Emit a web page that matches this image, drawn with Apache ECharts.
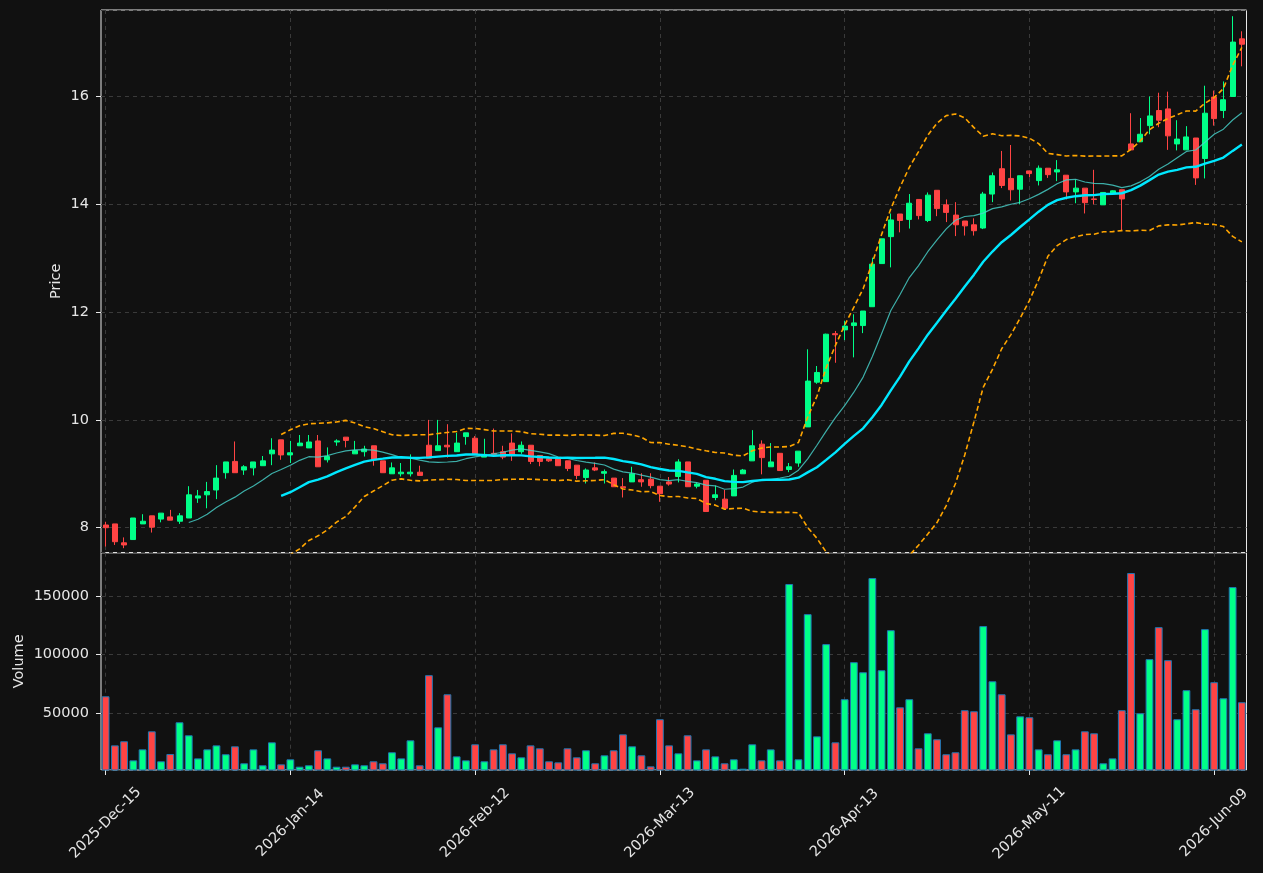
<!DOCTYPE html>
<html>
<head>
<meta charset="utf-8">
<script src="https://cdn.jsdelivr.net/npm/echarts@6/dist/echarts.min.js"></script>
<style>
  html, body { margin: 0; padding: 0; background: #111111; }
  #chart { width: 1263px; height: 873px; }
</style>
</head>
<body>
<div id="chart"></div>
<script>
// market holidays skipped when building the trading-day categories
var holidays = ['2025-12-25', '2026-01-01', '2026-01-19', '2026-02-16', '2026-04-03', '2026-05-25'];
var startDay = '2025-12-15';
var dayCount = 124;

var opens = [8.05, 8.07, 7.72, 7.78, 8.07, 8.22, 8.16, 8.20, 8.12, 8.18,
  8.55, 8.61, 8.70, 9.02, 9.23, 9.07, 9.11, 9.15, 9.37, 9.63,
  9.35, 9.52, 9.48, 9.61, 9.26, 9.59, 9.68, 9.37, 9.41, 9.52,
  9.24, 9.00, 9.00, 9.00, 9.03, 9.53, 9.43, 9.53, 9.41, 9.69,
  9.66, 9.31, 9.38, 9.41, 9.57, 9.41, 9.53, 9.34, 9.28, 9.29,
  9.24, 9.16, 8.93, 9.11, 9.01, 8.92, 8.76, 8.85, 8.89, 8.90,
  8.77, 8.85, 8.95, 9.22, 8.77, 8.88, 8.56, 8.53, 8.59, 9.00,
  9.24, 9.55, 9.13, 9.38, 9.08, 9.20, 9.87, 10.70, 10.71, 11.60,
  11.67, 11.75, 11.75, 12.10, 12.90, 13.40, 13.82, 13.72, 14.09, 13.70,
  14.26, 13.99, 13.80, 13.69, 13.62, 13.56, 14.19, 14.66, 14.48, 14.28,
  14.62, 14.44, 14.67, 14.60, 14.54, 14.23, 14.30, 14.10, 13.99, 14.20,
  14.27, 15.12, 15.16, 15.46, 15.74, 15.77, 15.12, 15.01, 15.23, 14.85,
  15.99, 15.74, 16.00, 17.07];
var closes = [8.00, 7.74, 7.68, 8.18, 8.12, 8.01, 8.27, 8.14, 8.22, 8.61,
  8.59, 8.67, 8.92, 9.22, 9.02, 9.13, 9.22, 9.24, 9.44, 9.35,
  9.39, 9.57, 9.59, 9.13, 9.32, 9.61, 9.62, 9.43, 9.46, 9.26,
  9.02, 9.11, 9.03, 9.03, 8.97, 9.29, 9.52, 9.50, 9.57, 9.76,
  9.36, 9.36, 9.36, 9.31, 9.35, 9.53, 9.23, 9.23, 9.24, 9.15,
  9.10, 8.97, 9.07, 9.07, 9.04, 8.76, 8.74, 9.00, 8.85, 8.78,
  8.63, 8.81, 9.22, 8.76, 8.81, 8.30, 8.61, 8.36, 8.97, 9.07,
  9.52, 9.30, 9.22, 9.06, 9.13, 9.42, 10.72, 10.88, 11.59, 11.58,
  11.74, 11.80, 12.02, 12.89, 13.36, 13.71, 13.70, 14.02, 13.79, 14.17,
  13.92, 13.85, 13.62, 13.60, 13.51, 14.19, 14.53, 14.35, 14.27, 14.53,
  14.57, 14.67, 14.55, 14.64, 14.23, 14.30, 14.03, 14.09, 14.22, 14.25,
  14.10, 15.01, 15.30, 15.64, 15.56, 15.27, 15.21, 15.25, 14.49, 15.69,
  15.59, 15.94, 17.01, 16.97];
var lows = [7.65, 7.68, 7.62, 7.78, 8.07, 7.91, 8.10, 8.14, 8.07, 8.18,
  8.46, 8.36, 8.53, 8.91, 9.02, 8.98, 8.97, 9.15, 9.16, 9.26,
  9.20, 9.52, 9.48, 9.13, 9.21, 9.52, 9.49, 9.37, 9.32, 9.15,
  9.02, 9.00, 8.95, 8.95, 8.97, 9.29, 9.43, 9.30, 9.41, 9.54,
  9.36, 9.31, 9.33, 9.27, 9.24, 9.37, 9.18, 9.14, 9.22, 9.15,
  9.05, 8.90, 8.82, 9.05, 8.82, 8.76, 8.56, 8.85, 8.76, 8.73,
  8.48, 8.78, 8.84, 8.76, 8.73, 8.30, 8.51, 8.36, 8.59, 9.00,
  9.24, 8.99, 9.13, 9.06, 9.03, 9.13, 9.87, 10.67, 10.71, 11.06,
  11.48, 11.16, 11.61, 12.10, 12.90, 12.83, 13.48, 13.55, 13.72, 13.67,
  13.78, 13.67, 13.41, 13.42, 13.42, 13.54, 14.04, 14.30, 14.07, 14.00,
  14.50, 14.35, 14.49, 14.43, 14.09, 14.02, 13.83, 14.00, 13.99, 14.19,
  13.52, 15.01, 15.16, 15.30, 15.43, 15.01, 15.00, 15.01, 14.36, 14.48,
  15.46, 15.60, 16.00, 16.56];
var highs = [8.11, 8.07, 7.82, 8.18, 8.25, 8.22, 8.27, 8.33, 8.27, 8.77,
  8.70, 8.85, 9.16, 9.22, 9.60, 9.16, 9.22, 9.33, 9.66, 9.63,
  9.61, 9.72, 9.72, 9.72, 9.49, 9.64, 9.68, 9.61, 9.52, 9.52,
  9.24, 9.21, 9.20, 9.36, 9.15, 10.00, 10.00, 9.92, 9.76, 9.76,
  9.70, 9.65, 9.84, 9.52, 9.75, 9.60, 9.53, 9.34, 9.30, 9.29,
  9.24, 9.16, 9.10, 9.21, 9.08, 8.92, 8.92, 9.13, 9.01, 9.01,
  8.77, 8.94, 9.27, 9.22, 8.84, 8.88, 8.78, 8.70, 9.08, 9.09,
  9.81, 9.62, 9.57, 9.38, 9.20, 9.42, 11.31, 11.00, 11.60, 11.65,
  11.84, 11.96, 12.02, 13.01, 13.36, 13.83, 13.82, 14.19, 14.09, 14.22,
  14.26, 14.09, 14.04, 13.69, 13.74, 14.23, 14.59, 14.99, 15.10, 14.53,
  14.62, 14.72, 14.67, 14.82, 14.54, 14.46, 14.30, 14.64, 14.22, 14.26,
  14.27, 15.69, 15.60, 16.00, 16.07, 16.09, 15.56, 15.45, 15.23, 16.20,
  16.11, 16.28, 17.49, 17.21];
var volumes = [64500, 22600, 26100, 9800, 19200, 34600, 9000, 15200, 42300, 31200,
  11500, 19200, 22600, 15000, 21800, 7300, 19200, 5600, 25200, 6400,
  10700, 4400, 5600, 18400, 11500, 4400, 4400, 6400, 5600, 9000,
  7300, 16700, 11500, 26900, 5600, 82500, 38000, 66200, 13200, 9800,
  23500, 9000, 19200, 23500, 15800, 12400, 22600, 20100, 9000, 8100,
  20100, 12400, 18400, 7300, 14100, 18400, 32000, 21800, 14100, 4700,
  44900, 22600, 15800, 31200, 9800, 19200, 13200, 7300, 10700, 2700,
  23500, 9800, 19200, 9800, 160300, 10700, 134600, 30300, 109000, 25200,
  62000, 93600, 85000, 165400, 86700, 120900, 55100, 62000, 20100, 32900,
  27800, 15000, 16700, 52600, 51700, 124400, 77300, 66200, 32000, 47400,
  46600, 19200, 15000, 26900, 15000, 19200, 34600, 32900, 7300, 11500,
  52600, 169700, 50000, 96200, 123500, 95300, 44900, 69700, 53400, 121800,
  76500, 62800, 157700, 59400];

var priceMin = 7.536, priceMax = 17.605;
var volMin = 1570, volMax = 187040;
var labelEvery = 20;

var upColor = '#00ff88', downColor = '#ff4444';
var months = ['Jan', 'Feb', 'Mar', 'Apr', 'May', 'Jun', 'Jul', 'Aug', 'Sep', 'Oct', 'Nov', 'Dec'];

function pad(n) { return n < 10 ? '0' + n : '' + n; }

// trading days: weekdays that are not holidays
var dates = [];
var d = new Date(startDay + 'T00:00:00Z');
while (dates.length < dayCount) {
  var wd = d.getUTCDay();
  var iso = d.getUTCFullYear() + '-' + pad(d.getUTCMonth() + 1) + '-' + pad(d.getUTCDate());
  if (wd !== 0 && wd !== 6 && holidays.indexOf(iso) < 0) {
    dates.push(d.getUTCFullYear() + '-' + months[d.getUTCMonth()] + '-' + pad(d.getUTCDate()));
  }
  d = new Date(d.getTime() + 86400000);
}

function sma(vals, n) {
  var out = [];
  for (var i = 0; i < vals.length; i++) {
    if (i < n - 1) { out.push('-'); continue; }
    var s = 0;
    for (var j = i - n + 1; j <= i; j++) s += vals[j];
    out.push(s / n);
  }
  return out;
}

function band(vals, n, k, sign) {
  var mid = sma(vals, n), out = [];
  for (var i = 0; i < vals.length; i++) {
    if (i < n - 1) { out.push('-'); continue; }
    var s = 0;
    for (var j = i - n + 1; j <= i; j++) s += Math.pow(vals[j] - mid[i], 2);
    out.push(mid[i] + sign * k * Math.sqrt(s / (n - 1)));
  }
  return out;
}

var candles = [], volBars = [];
for (var i = 0; i < dates.length; i++) {
  candles.push([opens[i], closes[i], lows[i], highs[i]]);
  volBars.push({
    value: volumes[i],
    itemStyle: { color: closes[i] >= opens[i] ? upColor : downColor }
  });
}

function showTick(index) { return index % labelEvery === 0; }

var txt = '#e6e6e6';
var gridLine = { show: true, interval: showTick, alignWithLabel: true,
  lineStyle: { color: '#3a3a3a', type: [4, 4], width: 1 } };
var ySplit = { show: true, lineStyle: { color: '#3a3a3a', type: [4, 4], width: 1 } };

var myChart = echarts.init(document.getElementById('chart'));

var option = {
  backgroundColor: '#111111',
  animation: false,
  textStyle: { fontFamily: 'DejaVu Sans' },
  grid: [
    { left: 101, top: 10, width: 1145.5, height: 542.7, show: true, borderColor: '#e8e8e8', borderWidth: 1,
      containLabel: false, outerBoundsMode: 'none' },
    { left: 101, top: 552.7, width: 1145.5, height: 217.3, show: true, borderColor: '#e8e8e8', borderWidth: 1,
      containLabel: false, outerBoundsMode: 'none' }
  ],
  xAxis: [
    {
      type: 'category', gridIndex: 0, data: dates, boundaryGap: true,
      axisLine: { show: false }, axisTick: { show: false }, axisLabel: { show: false },
      splitLine: gridLine
    },
    {
      type: 'category', gridIndex: 1, data: dates, boundaryGap: true,
      axisLine: { show: false },
      axisTick: { show: true, interval: showTick, alignWithLabel: true, length: 5, lineStyle: { color: '#e8e8e8' } },
      axisLabel: {
        show: true, interval: showTick, rotate: 45, color: txt, fontSize: 14.5,
        align: 'center', verticalAlign: 'middle', margin: 53, hideOverlap: false
      },
      splitLine: gridLine
    }
  ],
  yAxis: [
    {
      type: 'value', gridIndex: 0, min: priceMin, max: priceMax, splitNumber: 5,
      name: 'Price', nameLocation: 'middle', nameGap: 37, nameMoveOverlap: false,
      nameTextStyle: { color: txt, fontSize: 14.5 },
      axisLine: { show: false },
      axisTick: { show: true, length: 5, lineStyle: { color: '#e8e8e8' } },
      axisLabel: { color: txt, fontSize: 14.5, margin: 12, showMinLabel: false, showMaxLabel: false },
      splitLine: ySplit
    },
    {
      type: 'value', gridIndex: 1, min: volMin, max: volMax, splitNumber: 4,
      name: 'Volume', nameLocation: 'middle', nameGap: 74, nameMoveOverlap: false,
      nameTextStyle: { color: txt, fontSize: 14.5 },
      axisLine: { show: false },
      axisTick: { show: true, length: 5, lineStyle: { color: '#e8e8e8' } },
      axisLabel: {
        color: txt, fontSize: 14.5, margin: 12, showMinLabel: false, showMaxLabel: false,
        formatter: function (v) { return String(v); }
      },
      splitLine: ySplit
    }
  ],
  series: [
    {
      type: 'candlestick', xAxisIndex: 0, yAxisIndex: 0, data: candles, barWidth: 5.5,
      itemStyle: { color: upColor, color0: downColor, borderColor: upColor, borderColor0: downColor, borderWidth: 1 }
    },
    {
      type: 'line', xAxisIndex: 0, yAxisIndex: 0, data: sma(closes, 10), showSymbol: false,
      lineStyle: { color: 'rgba(72,214,206,0.8)', width: 1.2 }, z: 3
    },
    {
      type: 'line', xAxisIndex: 0, yAxisIndex: 0, data: sma(closes, 20), showSymbol: false,
      lineStyle: { color: '#00e8ff', width: 2.4 }, z: 3
    },
    {
      type: 'line', xAxisIndex: 0, yAxisIndex: 0, data: band(closes, 20, 2, 1), showSymbol: false,
      lineStyle: { color: '#ffa500', width: 1.6, type: [5, 3] }, z: 3
    },
    {
      type: 'line', xAxisIndex: 0, yAxisIndex: 0, data: band(closes, 20, 2, -1), showSymbol: false,
      lineStyle: { color: '#ffa500', width: 1.6, type: [5, 3] }, z: 3
    },
    {
      type: 'bar', xAxisIndex: 1, yAxisIndex: 1, data: volBars, barWidth: 7.8,
      itemStyle: { borderColor: '#1f77b4', borderWidth: 1 }
    }
  ]
};

myChart.setOption(option);
window.onresize = function () {
  myChart.resize();
};
</script>
</body>
</html>
